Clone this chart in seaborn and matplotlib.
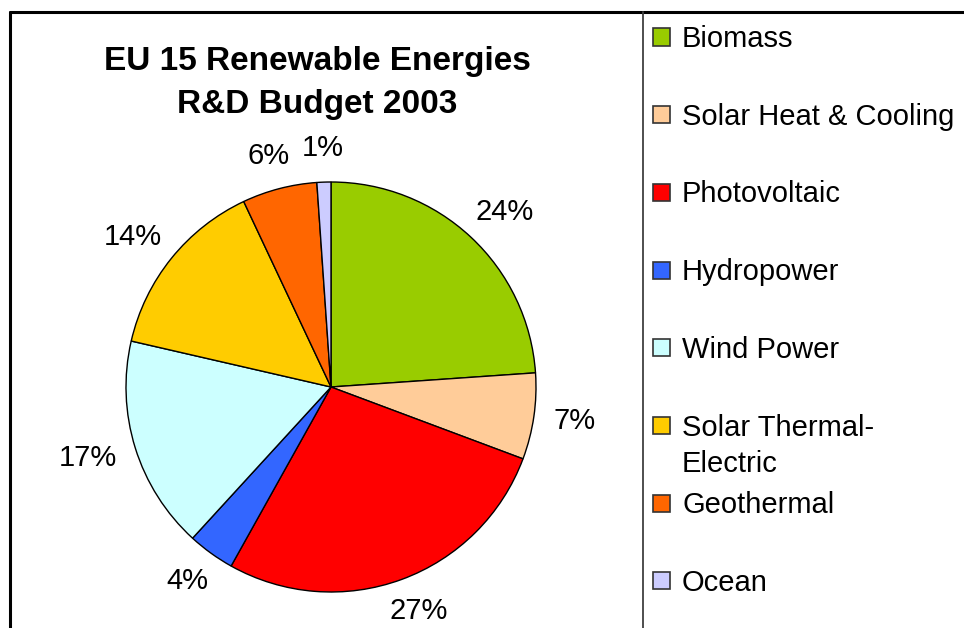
import matplotlib
matplotlib.use("Agg")
import numpy as np
import matplotlib.pyplot as plt
import seaborn as sns
from matplotlib.patches import Rectangle
from matplotlib.lines import Line2D

sns.set_theme(style="white")
plt.rcParams['font.family'] = ['Liberation Sans', 'DejaVu Sans']
plt.rcParams['text.color'] = 'black'

categories = ["Biomass", "Solar Heat & Cooling", "Photovoltaic", "Hydropower",
              "Wind Power", "Solar Thermal-\nElectric", "Geothermal", "Ocean"]
shares = [23.9, 6.8, 27.4, 3.7, 16.8, 14.4, 5.9, 1.1]
colors = ["#99CC00", "#FFCC99", "#FF0000", "#3366FF",
          "#CCFFFF", "#FFCC00", "#FF6600", "#CCCCFF"]
title = "EU 15 Renewable Energies\nR&D Budget 2003"

W, H = 964, 628
fig = plt.figure(figsize=(W / 100, H / 100), dpi=100)
fig.patch.set_facecolor("white")

cx, cy, r = 331, 387, 205
ax = fig.add_axes([(cx - r) / W, (H - cy - r) / H, 2 * r / W, 2 * r / H])
wedges, texts, autotexts = ax.pie(
    shares, colors=colors, startangle=90, counterclock=False,
    autopct=lambda p: f"{p:.0f}%", pctdistance=1.2,
    wedgeprops=dict(edgecolor="black", linewidth=1.0),
    textprops=dict(fontsize=21, color="black"))
ax.set_xlim(-1, 1)
ax.set_ylim(-1, 1)
ax.set_aspect("equal")
ax.axis("off")

# place labels just outside the rim (Excel "outside end" style)
fig.canvas.draw()
renderer = fig.canvas.get_renderer()
gap = 20 / r
for w, t in zip(wedges, autotexts):
    th = np.deg2rad((w.theta1 + w.theta2) / 2)
    bb = t.get_window_extent(renderer)
    hw, hh = bb.width / 2 / r, bb.height / 2 / r
    x = (1 + gap) * np.cos(th) + hw * np.cos(th)
    y = (1 + gap) * np.sin(th) + hh * np.sin(th)
    t.set_position((x, y))
    t.set_ha("center")
    t.set_va("center")
    t.set_clip_on(False)

fig.text(317 / W, 1 - 83 / H, title, ha="center", va="center",
         fontsize=24, fontweight="bold", linespacing=1.5)

# frame lines
fig.add_artist(Line2D([10 / W, 1], [1 - 12 / H, 1 - 12 / H], color="black", lw=2.2))
fig.add_artist(Line2D([10 / W, 10 / W], [0, 1 - 12 / H], color="black", lw=2.2))
fig.add_artist(Line2D([643 / W, 643 / W], [0, 1 - 12 / H], color="#404040", lw=1.3))

# legend
y0, step = 37.5, 77.7
for i, (lab, col) in enumerate(zip(categories, colors)):
    y = y0 + i * step
    fig.add_artist(Rectangle((653 / W, 1 - (y + 8) / H), 17 / W, 17 / H,
                             transform=fig.transFigure, facecolor=col,
                             edgecolor="#333333", linewidth=1.2))
    fig.text(682 / W, 1 - (y - 12.5) / H, lab, ha="left", va="top",
             fontsize=21, linespacing=1.4)

fig.savefig("out.png", dpi=100, facecolor="white")
